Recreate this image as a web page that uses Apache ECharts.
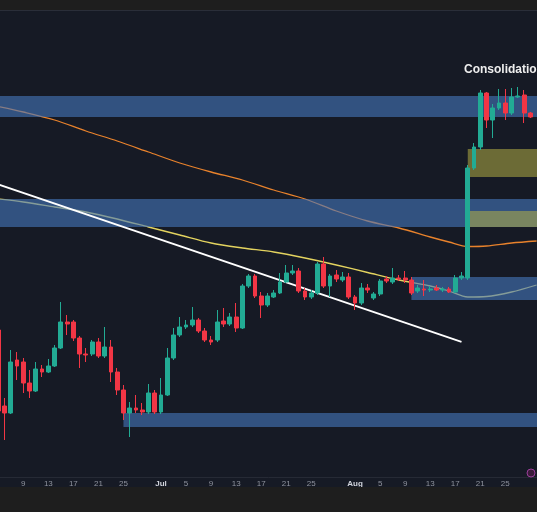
<!DOCTYPE html>
<html><head><meta charset="utf-8">
<script src="https://cdn.jsdelivr.net/npm/echarts@6/dist/echarts.min.js"></script>
<style>html,body{margin:0;padding:0;background:#161a25;}#c{width:537px;height:512px;}</style>
</head><body><div id="c"></div>
<script>
// ---- data ----
// day index 0 = 2024-06-09; candles start at day -4 (Jun 5)
const dayZero = Date.UTC(2024, 5, 9);
const firstCandleDay = -4;
const viewFrom = -3.72, viewTo = 82.06;      // visible day range
const tickDays = [1, 5, 9, 13, 17, 21, 25];
const monthNames = ['Jan','Feb','Mar','Apr','May','Jun','Jul','Aug','Sep','Oct','Nov','Dec'];

// daily candles [open, close, low, high]
const candles = [
  [170, 89, 85, 175], [94, 87, 60, 102], [87, 138, 86, 150], [140, 134, 120, 148],
  [138, 117, 107, 142], [117, 109, 102, 130], [109, 131, 108, 138], [131, 128, 123, 135],
  [128, 134, 127, 141], [134, 152, 133, 155], [152, 178, 151, 198], [178, 176, 165, 185],
  [178, 162, 159, 180], [162, 146, 132, 164], [146, 145, 138, 152], [146, 158, 144, 160],
  [158, 144, 142, 162], [144, 153, 142, 173], [153, 128, 118, 160], [128, 110, 105, 132],
  [110, 87, 80, 115], [87, 92, 63, 98], [92, 90, 87, 105], [90, 88, 85, 97],
  [88, 107, 86, 116], [107, 88, 86, 110], [88, 105, 86, 122], [105, 142, 104, 152],
  [142, 165, 140, 172], [165, 173, 163, 183], [173, 175, 171, 180], [175, 180, 173, 193],
  [180, 169, 167, 182], [169, 160, 158, 172], [160, 158, 155, 164], [160, 178, 158, 190],
  [179, 176, 173, 192], [176, 183, 174, 187], [183, 172, 168, 197], [172, 214, 171, 216],
  [214, 224, 212, 226], [224, 204, 202, 226], [204, 195, 182, 208], [195, 204, 193, 207],
  [203, 207, 202, 210], [207, 218, 206, 227], [218, 227, 217, 235], [227, 229, 225, 235],
  [229, 209, 207, 232], [209, 203, 200, 212], [203, 207, 201, 210], [207, 236, 205, 238],
  [236, 214, 212, 243], [214, 224, 203, 226], [225, 221, 218, 230], [220, 223, 218, 228],
  [223, 203, 201, 227], [203, 197, 190, 205], [197, 212, 195, 217], [212, 210, 207, 216],
  [202, 206, 200, 208], [206, 219, 204, 221], [221, 219, 217, 224], [218, 222, 216, 232],
  [222, 221, 219, 225], [222, 220, 217, 229], [220, 207, 205, 223], [209, 212, 207, 215],
  [211, 210, 204, 220], [210, 211, 208, 214], [212, 210, 209, 215], [210, 211, 208, 213],
  [211, 208, 207, 213], [208, 222, 207, 225], [222, 224, 220, 228], [222, 332, 220, 335],
  [332, 353, 330, 357], [353, 407, 350, 410], [407, 380, 372, 408], [380, 392, 362, 396],
  [392, 397, 390, 411], [397, 387, 380, 411], [387, 403, 385, 412], [403, 404, 402, 413],
  [405, 387, 377, 410], [387, 383, 382, 388]
];

// moving averages: [day index, value]
const maSlow = [[-4,393.5],[0,388],[5,380],[10,369],[15,359],[20,348],[25,337],[30,328],[35,320],[40,310],
  [45,301],[50,289],[55,279],[60,272],[65,263],[68,258],[71,253.5],[74,254],[78,257],[82,259]];
const maFast = [[-4,301],[0,298],[5,293],[10,288],[15,281],[20,273],[25,265],[30,257],[35,252],[40,248],
  [45,242],[50,235],[55,227.5],[60,220],[65,214],[68,209],[71,203],[74,203.5],[78,208],[82,215]];
const trendLine = [[-4,315.6],[70,158.2]];

// zones [from day, low, high]
const blueZones = [[viewFrom, 383, 404], [viewFrom, 273, 301], [62, 200, 223], [16, 73, 87]];
const yellowZones = [[71, 323, 351], [71, 273, 289]];
const noteText = 'Consolidation';

// ---- build ----
function dayDate(i) { return new Date(dayZero + i * 86400000); }
const candleData = candles.map((c, k) => [firstCandleDay + k].concat(c));
const labelDays = [];
for (let i = Math.ceil(viewFrom); i <= Math.floor(viewTo); i++) {
  if (i >= 0 && tickDays.indexOf(dayDate(i).getUTCDate()) >= 0) labelDays.push(i);
}
function zoneData(z) {
  return z.map(([from, lo, hi]) => [{ xAxis: from, yAxis: lo }, { xAxis: viewTo, yAxis: hi }]);
}

const chart = echarts.init(document.getElementById('c'), null, { renderer: 'canvas' });
chart.setOption({
  animation: false,
  backgroundColor: '#161a25',
  grid: { left: 0, right: 0, top: 11, bottom: 35, containLabel: false },
  xAxis: {
    type: 'value', min: viewFrom, max: viewTo,
    axisLine: { show: true, lineStyle: { color: '#262a35', width: 1 } },
    axisTick: { show: false },
    splitLine: { show: false },
    axisLabel: {
      customValues: labelDays,
      showMinLabel: true, showMaxLabel: true, hideOverlap: false,
      margin: 3, fontSize: 8, color: '#8f939e', fontFamily: 'Liberation Sans, Arial, sans-serif',
      formatter: function (v) {
        const d = dayDate(Math.round(v));
        if (d.getUTCDate() === 1) return '{m|' + monthNames[d.getUTCMonth()] + '}';
        return String(d.getUTCDate());
      },
      rich: { m: { fontSize: 8, color: '#d1d4dc', fontWeight: 'bold', fontFamily: 'Liberation Sans, Arial, sans-serif' } }
    }
  },
  yAxis: { type: 'value', min: 23, max: 489, show: false, splitLine: { show: false } },
  series: [
    { type: 'line', data: maSlow, smooth: 0.3, showSymbol: false, z: 2,
      lineStyle: { color: '#e8822c', width: 1.3 } },
    { type: 'line', data: maFast, smooth: 0.3, showSymbol: false, z: 2,
      lineStyle: { color: '#e3d35f', width: 1.3 } },
    { type: 'line', data: [], z: 3, silent: true,
      markArea: { silent: true, z: 3, itemStyle: { color: 'rgba(70,120,190,0.6)' }, data: zoneData(blueZones) } },
    { type: 'line', data: [], z: 3, silent: true,
      markArea: { silent: true, z: 3, itemStyle: { color: 'rgba(180,175,70,0.55)' }, data: zoneData(yellowZones) } },
    { type: 'line', data: trendLine, showSymbol: false, z: 4,
      lineStyle: { color: '#ffffff', width: 1.8 } },
    { type: 'candlestick', data: candleData, z: 5, barWidth: 4.3,
      itemStyle: { color: '#22ab94', color0: '#f23645', borderColor: '#22ab94', borderColor0: '#f23645', borderWidth: 1 } }
  ],
  graphic: [
    { type: 'rect', shape: { x: 0, y: 0, width: 537, height: 10 }, style: { fill: '#1e1e1e' }, z: 10 },
    { type: 'rect', shape: { x: 0, y: 10, width: 537, height: 1 }, style: { fill: '#2a2e39' }, z: 10 },
    { type: 'rect', shape: { x: 0, y: 487, width: 537, height: 25 }, style: { fill: '#1e1e1e' }, z: 10 },
    { type: 'text', x: 464, y: 70, z: 10,
      style: { text: noteText, fill: '#eeeeee', font: 'bold 12px "Liberation Sans", Arial, sans-serif', verticalAlign: 'middle' } },
    { type: 'circle', shape: { cx: 531, cy: 473, r: 4 }, style: { fill: '#3a1a3a', stroke: '#9a3f9a', lineWidth: 1 }, z: 10 }
  ]
});
</script>
</body></html>
